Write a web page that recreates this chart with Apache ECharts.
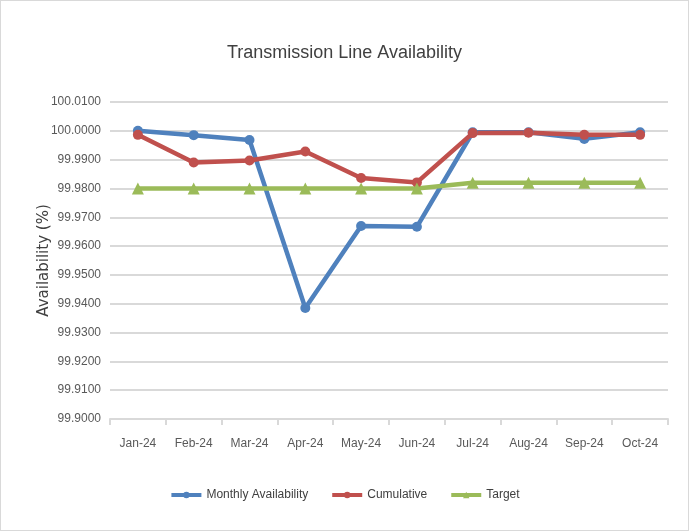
<!DOCTYPE html>
<html>
<head>
<meta charset="utf-8">
<script src="https://cdn.jsdelivr.net/npm/echarts@6/dist/echarts.min.js"></script>
<style>
  html, body { margin: 0; padding: 0; background: #fff; }
  #main { width: 687px; height: 529px; border: 1px solid #d9d9d9; }
</style>
</head>
<body>
<div id="main"></div>
<script>
var months = ['Jan-24', 'Feb-24', 'Mar-24', 'Apr-24', 'May-24', 'Jun-24', 'Jul-24', 'Aug-24', 'Sep-24', 'Oct-24'];
var monthly = [100.0000, 99.9985, 99.9968, 99.9385, 99.9670, 99.9667, 99.9995, 99.9995, 99.9972, 99.9995];
var cumulative = [99.9986, 99.9890, 99.9897, 99.9928, 99.9836, 99.9821, 99.9992, 99.9993, 99.9986, 99.9986];
var target = [99.98, 99.98, 99.98, 99.98, 99.98, 99.98, 99.982, 99.982, 99.982, 99.982];

var font = '"Liberation Sans", Arial, sans-serif';
var myChart = echarts.init(document.getElementById('main'));

function lineSeries(name, data, color, symbol) {
    return {
        name: name,
        type: 'line',
        data: data,
        symbol: symbol,
        symbolSize: symbol === 'triangle' ? 12 : 10,
        lineStyle: { width: 4.5, color: color },
        itemStyle: { color: color },
        animation: false
    };
}

myChart.setOption({
    title: {
        text: 'Transmission Line Availability',
        left: 'center',
        top: 38,
        textStyle: { fontFamily: font, fontWeight: 'normal', fontSize: 18, color: '#404040' }
    },
    legend: {
        bottom: 24,
        left: 'center',
        itemWidth: 30,
        itemHeight: 8,
        itemGap: 22,
        lineStyle: { width: 4 },
        textStyle: { fontFamily: font, fontSize: 12, color: '#404040' },
        data: ['Monthly Availability', 'Cumulative', 'Target']
    },
    grid: { left: 109, right: 20, top: 101, bottom: 111 },
    xAxis: {
        type: 'category',
        data: months,
        boundaryGap: true,
        axisLine: { lineStyle: { color: '#d9d9d9', width: 2 } },
        axisTick: { show: true, length: 6, lineStyle: { color: '#d9d9d9', width: 2 } },
        axisLabel: { interval: 0, margin: 19, fontFamily: font, fontSize: 12, color: '#595959' }
    },
    yAxis: {
        type: 'value',
        min: 99.90,
        max: 100.01,
        interval: 0.01,
        name: 'Availability (%)',
        nameLocation: 'middle',
        nameGap: 58,
        nameMoveOverlap: false,
        nameTextStyle: { fontFamily: 'DejaVu Sans', fontSize: 15, color: '#404040' },
        axisLine: { show: false },
        axisTick: { show: false },
        splitLine: { lineStyle: { color: '#d9d9d9', width: 2 } },
        axisLabel: {
            margin: 9,
            fontFamily: font,
            fontSize: 12,
            color: '#595959',
            formatter: function (v) { return v.toFixed(4); }
        }
    },
    series: [
        lineSeries('Monthly Availability', monthly, '#4f81bd', 'circle'),
        lineSeries('Cumulative', cumulative, '#c0504d', 'circle'),
        lineSeries('Target', target, '#9bbb59', 'triangle')
    ]
});
</script>
</body>
</html>
